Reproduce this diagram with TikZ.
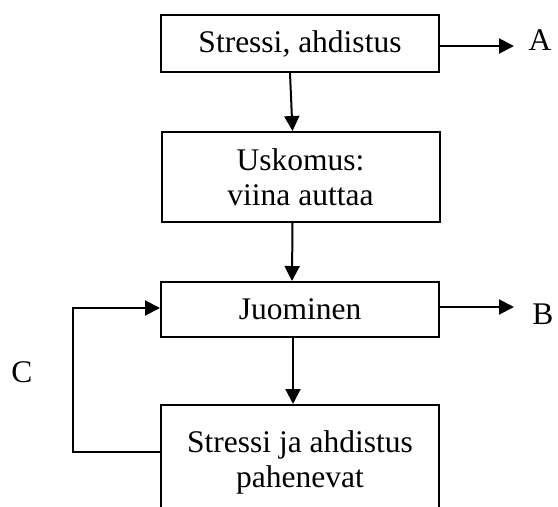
\documentclass[tikz,border=0pt]{standalone}
\usepackage{fontspec}
\setmainfont{Liberation Serif}
\usetikzlibrary{arrows.meta}
\begin{document}
\begin{tikzpicture}[x=1pt,y=-1pt,
  box/.style={draw, line width=2pt, minimum width=278pt, inner sep=0pt,
    align=center, font=\fontsize{31.5}{35}\selectfont},
  arr/.style={line width=2pt, -{Triangle[length=15pt,width=15pt]}},
  lbl/.style={font=\fontsize{31.5}{35}\selectfont, inner sep=0pt}]
  \useasboundingbox (0,0) rectangle (558,507);
  % process boxes
  \node[box, minimum height=57pt] (b1) at (300,43.5) {Stressi, ahdistus};
  \node[box, minimum height=90pt] (b2) at (300.5,177) {Uskomus:\\viina auttaa};
  \node[box, minimum height=55pt] (b3) at (300,309.5) {Juominen};
  \node[box, minimum height=114pt] (b4) at (300,462) {Stressi ja ahdistus\\pahenevat};
  % side outputs
  \coordinate (ea) at (514,46);
  \coordinate (eb) at (514,307);
  \node[lbl] (la) at (540,40) {A};
  \node[lbl] (lb) at (543,314) {B};
  \node[lbl] (lc) at (22,372) {C};
  % connectors
  \draw[arr] ([xshift=-10pt]b1.south) -- ([xshift=-8pt]b2.north);
  \draw[arr] ([xshift=-8pt]b2.south) -- ([xshift=-8pt]b3.north);
  \draw[arr] ([xshift=-7pt]b3.south) -- ([xshift=-7pt]b4.north);
  \draw[arr] (b1.east |- ea) -- (ea);
  \draw[arr] (b3.east |- eb) -- (eb);
  \draw[arr] ([yshift=10pt]b4.west) -- ++(-87,0) |- ([yshift=1.5pt]b3.west);
\end{tikzpicture}
\end{document}
